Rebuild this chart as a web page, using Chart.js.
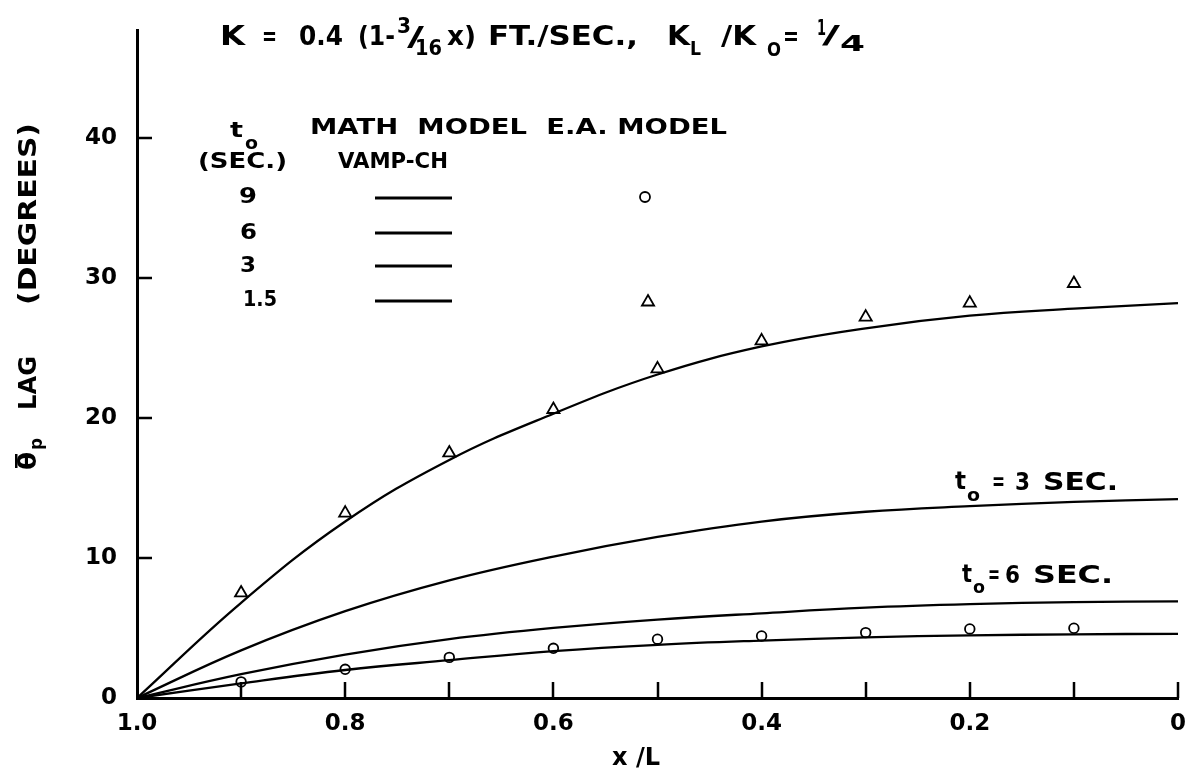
<!DOCTYPE html>
<html>
<head>
<meta charset="utf-8">
<script src="https://cdn.jsdelivr.net/npm/chart.js@4.4.1/dist/chart.umd.min.js"></script>
<style>
  html, body { margin: 0; padding: 0; background: #fff; }
  #wrap { width: 1193px; height: 776px; }
</style>
</head>
<body>
<div id="wrap"><canvas id="lagChart" width="1193" height="776"></canvas></div>
<script>
// x / L positions of the math model curves
const xCurve = [1.0, 0.9, 0.8, 0.7, 0.6, 0.5, 0.4, 0.3, 0.2, 0.1, 0];
// math model (VAMP-CH) lag, degrees, one array per t0
const model15 = [0, 6.8, 12.6, 17.0, 20.3, 23.1, 25.1, 26.4, 27.3, 27.8, 28.2];
const model3 = [0, 3.4, 6.2, 8.4, 10.1, 11.5, 12.6, 13.3, 13.7, 14.0, 14.2];
const model6 = [0, 1.7, 3.1, 4.2, 5.0, 5.6, 6.05, 6.45, 6.7, 6.85, 6.9];
const model9 = [0, 1.05, 2.0, 2.7, 3.35, 3.8, 4.1, 4.33, 4.47, 4.55, 4.58];

// E.A. model measurements
const xTest = [0.9, 0.8, 0.7, 0.6, 0.5, 0.4, 0.3, 0.2, 0.1];
const test15 = [7.5, 13.2, 17.5, 20.6, 23.5, 25.5, 27.2, 28.2, 29.6];
const test9 = [1.15, 2.05, 2.9, 3.55, 4.2, 4.43, 4.67, 4.93, 4.98];

// axes
const xTickValues = [0, 0.1, 0.2, 0.3, 0.4, 0.5, 0.6, 0.7, 0.8, 0.9, 1.0];
const xTickLabels = ['0', '', '0.2', '', '0.4', '', '0.6', '', '0.8', '', '1.0'];
const yTickValues = [0, 10, 20, 30, 40];
const yMax = 47.7;

const FONT = '"DejaVu Sans", sans-serif';
Chart.defaults.font.family = FONT;
Chart.defaults.color = '#000';

const toPoints = (xs, ys) => xs.map((x, i) => ({ x, y: ys[i] }));

const curveSet = (data) => ({
  data: toPoints(xCurve, data),
  showLine: true,
  borderColor: '#000',
  borderWidth: 2.3,
  pointRadius: 0,
  tension: 0.4,
  clip: false,
});

const fitText = (ctx, text, x0, x1, y, size) => {
  ctx.save();
  ctx.font = `bold ${size}px ${FONT}`;
  ctx.textBaseline = 'middle';
  ctx.textAlign = 'left';
  const w = ctx.measureText(text).width;
  ctx.translate(x0, y);
  ctx.scale((x1 - x0) / w, 1);
  ctx.fillText(text, 0, 0);
  ctx.restore();
};

// vertical text, reading bottom to top
const fitTextUp = (ctx, text, yBottom, yTop, x, size) => {
  ctx.save();
  ctx.font = `bold ${size}px ${FONT}`;
  ctx.textBaseline = 'middle';
  ctx.textAlign = 'left';
  const w = ctx.measureText(text).width;
  ctx.translate(x, yBottom);
  ctx.rotate(-Math.PI / 2);
  ctx.scale((yBottom - yTop) / w, 1);
  ctx.fillText(text, 0, 0);
  ctx.restore();
};

const inwardTicks = {
  id: 'inwardTicks',
  afterDatasetsDraw(chart) {
    const { ctx, scales: { x, y } } = chart;
    ctx.save();
    ctx.strokeStyle = '#000';
    ctx.lineWidth = 2.5;
    ctx.beginPath();
    xTickValues.filter((v) => v < 1).forEach((v) => {
      const px = Math.round(x.getPixelForValue(v));
      ctx.moveTo(px, y.bottom);
      ctx.lineTo(px, y.bottom - 16);
    });
    yTickValues.filter((v) => v > 0).forEach((v) => {
      const py = Math.round(y.getPixelForValue(v));
      ctx.moveTo(x.left, py);
      ctx.lineTo(x.left + 15, py);
    });
    ctx.stroke();
    ctx.restore();
  },
};

const labels = {
  id: 'labels',
  afterDraw(chart) {
    const ctx = chart.ctx;
    ctx.save();
    ctx.fillStyle = '#000';
    ctx.strokeStyle = '#000';

    // title
    fitText(ctx, 'K', 220, 245, 38, 26);
    fitText(ctx, '=', 262, 277, 38, 26);
    fitText(ctx, '0.4', 299, 343, 38, 26);
    fitText(ctx, '(1-', 358, 395, 38, 26);
    fitText(ctx, '3', 397, 411, 27, 22);
    fitText(ctx, '/', 407, 424, 39, 26);
    fitText(ctx, '16', 415, 442, 49, 22);
    fitText(ctx, 'x)', 447, 476, 38, 26);
    fitText(ctx, 'FT./SEC.,', 488, 638, 38, 26);
    fitText(ctx, 'K', 667, 690, 38, 26);
    fitText(ctx, 'L', 690, 701, 50, 20);
    fitText(ctx, '/K', 721, 756, 38, 26);
    fitText(ctx, 'O', 767, 781, 51, 20);
    fitText(ctx, '=', 783, 799, 38, 26);
    fitText(ctx, '1', 817, 826, 29, 22);
    fitText(ctx, '/', 822, 840, 37, 24);
    fitText(ctx, '4', 840, 865, 45, 22);

    // legend table
    fitText(ctx, 't', 230, 243, 131, 22);
    fitText(ctx, 'o', 245, 258, 145, 17);
    fitText(ctx, '(SEC.)', 198, 287, 162, 22);
    fitText(ctx, 'MATH  MODEL  E.A. MODEL', 310, 727, 128, 22);
    fitText(ctx, 'VAMP-CH', 338, 448, 162, 22);
    fitText(ctx, '9', 239, 257, 197, 22);
    fitText(ctx, '6', 240, 257, 233, 22);
    fitText(ctx, '3', 240, 256, 266, 22);
    fitText(ctx, '1.5', 243, 277, 300, 22);
    ctx.lineWidth = 3;
    ctx.beginPath();
    [198, 233, 266, 301].forEach((ly) => {
      ctx.moveTo(375, ly);
      ctx.lineTo(452, ly);
    });
    ctx.stroke();
    ctx.lineWidth = 1.8;
    ctx.beginPath();
    ctx.arc(645, 197, 5, 0, Math.PI * 2);
    ctx.stroke();
    ctx.beginPath();
    for (let k = 0; k < 3; k++) {
      const a = k * 2 * Math.PI / 3;
      const px = 648 + Math.sin(a) * 7;
      const py = 302 - Math.cos(a) * 7;
      if (k === 0) ctx.moveTo(px, py); else ctx.lineTo(px, py);
    }
    ctx.closePath();
    ctx.stroke();

    // curve labels
    fitText(ctx, 't', 955, 966, 483, 24);
    fitText(ctx, 'o', 967, 980, 497, 17);
    fitText(ctx, '=', 992, 1005, 484, 24);
    fitText(ctx, '3', 1015, 1030, 484, 24);
    fitText(ctx, 'SEC.', 1043, 1118, 484, 24);
    fitText(ctx, 't', 962, 972, 576, 24);
    fitText(ctx, 'o', 973, 985, 589, 17);
    fitText(ctx, '=', 988, 1000, 577, 24);
    fitText(ctx, '6', 1005, 1020, 577, 24);
    fitText(ctx, 'SEC.', 1033, 1113, 577, 24);

    // axis titles
    fitText(ctx, 'x /L', 612, 660, 759, 24);
    fitTextUp(ctx, 'θ', 470, 452, 30, 24);
    ctx.fillRect(15, 454, 2.5, 14);
    fitTextUp(ctx, 'p', 450, 438, 37, 18);
    fitTextUp(ctx, 'LAG', 410, 356, 30, 24);
    fitTextUp(ctx, '(DEGREES)', 305, 123, 30, 24);
    ctx.restore();
  },
};

new Chart(document.getElementById('lagChart'), {
  type: 'scatter',
  data: {
    datasets: [
      curveSet(model15),
      curveSet(model3),
      curveSet(model6),
      curveSet(model9),
      {
        data: toPoints(xTest, test15),
        pointStyle: 'triangle',
        pointRadius: 7,
        borderColor: '#000',
        backgroundColor: '#fff',
        borderWidth: 1.8,
        showLine: false,
      },
      {
        data: toPoints(xTest, test9),
        pointStyle: 'circle',
        pointRadius: 4.8,
        borderColor: '#000',
        backgroundColor: '#fff',
        borderWidth: 1.8,
        showLine: false,
      },
    ],
  },
  options: {
    responsive: false,
    devicePixelRatio: 1,
    animation: false,
    layout: { padding: { left: 0, right: 15, top: 30, bottom: 0 } },
    plugins: { legend: { display: false }, tooltip: { enabled: false } },
    scales: {
      x: {
        type: 'linear',
        reverse: true,
        min: 0,
        max: 1,
        afterBuildTicks: (s) => {
          s.ticks = xTickValues.map((v) => ({ value: v }));
        },
        afterFit: (s) => {
          s.height = 78;
          s.paddingLeft = 0;
          s.paddingRight = 0;
        },
        grid: { display: false, drawTicks: false },
        border: { display: true, color: '#000', width: 3 },
        ticks: {
          autoSkip: false,
          maxRotation: 0,
          padding: 12,
          font: { size: 23, weight: 'bold' },
          callback: (value) => {
            const i = xTickValues.findIndex((v) => Math.abs(v - value) < 1e-9);
            return i >= 0 ? xTickLabels[i] : '';
          },
        },
      },
      y: {
        type: 'linear',
        min: 0,
        max: yMax,
        afterBuildTicks: (s) => {
          s.ticks = yTickValues.map((v) => ({ value: v }));
        },
        afterFit: (s) => {
          s.width = 137;
          s.paddingTop = 0;
          s.paddingBottom = 0;
        },
        grid: { display: false, drawTicks: false },
        border: { display: true, color: '#000', width: 3 },
        ticks: {
          padding: 20,
          font: { size: 23, weight: 'bold' },
        },
      },
    },
  },
  plugins: [inwardTicks, labels],
});
</script>
</body>
</html>
